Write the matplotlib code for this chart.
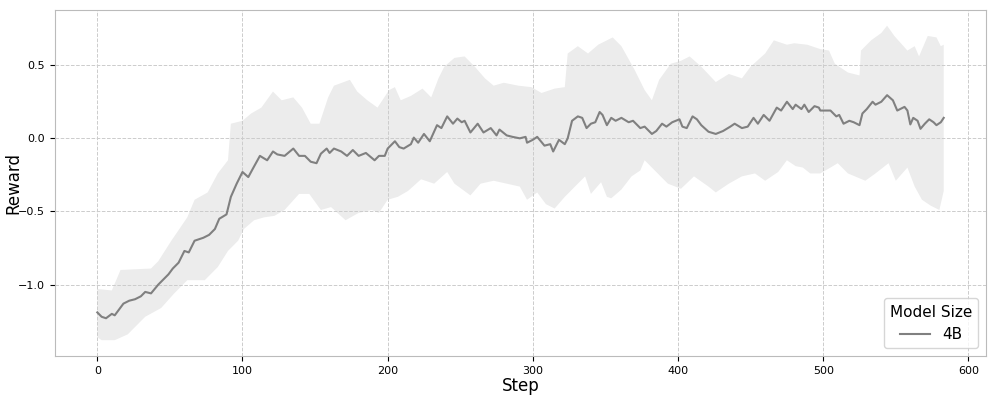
"""Reward curve for the 4B model: mean line with a shaded spread band."""

import numpy as np
import matplotlib
matplotlib.use('Agg')
import matplotlib.pyplot as plt

# mean reward (step, value)
MEAN_STEPS = [
    0, 3, 6, 10, 12, 15, 18, 22, 26, 30, 33, 37, 42, 45, 49, 52, 56, 60, 63, 67,
    70, 73, 77, 81, 84, 89, 92, 96, 100, 104, 107, 112, 117, 121, 124, 129, 135,
    139, 143, 147, 151, 154, 158, 160, 163, 168, 172, 176, 180, 185, 191, 194,
    198, 200, 205, 208, 211, 216, 218, 221, 225, 229, 234, 237, 241, 245, 248,
    251, 253, 257, 262, 266, 271, 275, 277, 282, 286, 291, 295, 296, 300, 303,
    308, 312, 314, 318, 322, 324, 327, 331, 334, 337, 340, 343, 346, 348, 351,
    354, 357, 361, 366, 369, 374, 377, 382, 385, 389, 392, 396, 401, 403, 406,
    410, 413, 416, 421, 426, 431, 436, 439, 444, 448, 452, 455, 459, 463, 468,
    471, 475, 479, 481, 485, 487, 490, 494, 497, 498, 505, 509, 511, 514, 518,
    521, 525, 527, 530, 534, 536, 540, 544, 548, 551, 556, 558, 560, 562, 565,
    567, 570, 573, 576, 578, 581, 583,
]
MEAN_VALUES = [
    -1.19, -1.22, -1.23, -1.20, -1.21, -1.17, -1.13, -1.11, -1.10, -1.08, -1.05,
    -1.06, -1.00, -0.97, -0.93, -0.89, -0.85, -0.77, -0.78, -0.70, -0.69, -0.68,
    -0.66, -0.62, -0.55, -0.52, -0.40, -0.31, -0.23, -0.265, -0.21, -0.12, -0.15,
    -0.09, -0.11, -0.12, -0.07, -0.12, -0.12, -0.16, -0.17, -0.105, -0.07, -0.10,
    -0.07, -0.09, -0.12, -0.08, -0.12, -0.10, -0.15, -0.12, -0.12, -0.07, -0.02,
    -0.06, -0.07, -0.04, 0.005, -0.03, 0.03, -0.02, 0.09, 0.07, 0.15, 0.10, 0.135,
    0.11, 0.12, 0.04, 0.10, 0.04, 0.07, 0.02, 0.06, 0.02, 0.01, 0.0, 0.01, -0.03,
    -0.01, 0.01, -0.05, -0.04, -0.09, -0.01, -0.04, 0.0, 0.12, 0.15, 0.14, 0.07,
    0.10, 0.11, 0.18, 0.16, 0.09, 0.14, 0.12, 0.14, 0.11, 0.12, 0.07, 0.08, 0.03,
    0.05, 0.10, 0.08, 0.11, 0.13, 0.08, 0.07, 0.15, 0.13, 0.09, 0.045, 0.03, 0.05,
    0.08, 0.10, 0.07, 0.08, 0.14, 0.10, 0.16, 0.12, 0.21, 0.19, 0.25, 0.20, 0.23,
    0.20, 0.23, 0.18, 0.22, 0.21, 0.19, 0.19, 0.15, 0.16, 0.10, 0.12, 0.11, 0.09,
    0.17, 0.20, 0.25, 0.23, 0.25, 0.295, 0.26, 0.19, 0.215, 0.19, 0.095, 0.14,
    0.12, 0.065, 0.10, 0.13, 0.11, 0.09, 0.11, 0.14,
]

# upper edge of the band
UPPER_STEPS = [
    0, 10, 16, 37, 42, 51, 62, 67, 76, 83, 90, 92, 100, 106, 113, 121, 127, 135,
    141, 147, 153, 159, 163, 174, 179, 186, 193, 201, 205, 209, 216, 224, 230,
    235, 239, 246, 253, 260, 267, 273, 280, 290, 299, 306, 315, 322, 324, 331,
    338, 345, 355, 361, 370, 377, 382, 387, 395, 402, 408, 416, 426, 435, 444,
    450, 460, 466, 475, 480, 489, 498, 504, 508, 517, 525, 526, 533, 540, 544,
    549, 558, 563, 566, 572, 578, 581, 583,
]
UPPER_VALUES = [
    -1.03, -1.04, -0.90, -0.89, -0.84, -0.70, -0.54, -0.42, -0.37, -0.24, -0.15,
    0.10, 0.12, 0.17, 0.21, 0.32, 0.26, 0.28, 0.21, 0.10, 0.10, 0.28, 0.36, 0.40,
    0.32, 0.26, 0.21, 0.33, 0.35, 0.26, 0.29, 0.34, 0.28, 0.41, 0.49, 0.55, 0.56,
    0.49, 0.41, 0.36, 0.38, 0.36, 0.35, 0.31, 0.34, 0.35, 0.58, 0.63, 0.58, 0.64,
    0.69, 0.63, 0.47, 0.33, 0.26, 0.40, 0.51, 0.53, 0.56, 0.49, 0.385, 0.44,
    0.41, 0.49, 0.58, 0.67, 0.64, 0.65, 0.64, 0.61, 0.60, 0.51, 0.45, 0.43, 0.60,
    0.67, 0.72, 0.77, 0.70, 0.60, 0.63, 0.56, 0.70, 0.69, 0.63, 0.64,
]

# lower edge of the band
LOWER_STEPS = [
    0, 3, 12, 21, 33, 44, 53, 62, 74, 83, 90, 97, 101, 108, 115, 122, 129, 139,
    146, 154, 161, 171, 180, 189, 194, 200, 207, 214, 223, 232, 241, 246, 257,
    264, 273, 282, 291, 296, 303, 309, 315, 322, 331, 336, 340, 347, 351, 354,
    361, 368, 374, 377, 384, 393, 402, 411, 421, 426, 435, 444, 453, 460, 469,
    475, 481, 486, 491, 498, 505, 510, 517, 529, 536, 545, 550, 558, 563, 568,
    574, 580, 583,
]
LOWER_VALUES = [
    -1.36, -1.38, -1.38, -1.34, -1.22, -1.16, -1.06, -0.97, -0.97, -0.88, -0.77,
    -0.70, -0.62, -0.56, -0.54, -0.53, -0.49, -0.38, -0.38, -0.49, -0.47, -0.56,
    -0.51, -0.49, -0.51, -0.42, -0.40, -0.36, -0.28, -0.31, -0.23, -0.31, -0.39,
    -0.31, -0.29, -0.31, -0.33, -0.42, -0.37, -0.45, -0.48, -0.40, -0.31, -0.26,
    -0.38, -0.30, -0.40, -0.41, -0.35, -0.26, -0.22, -0.15, -0.22, -0.31, -0.345,
    -0.26, -0.33, -0.37, -0.31, -0.26, -0.24, -0.29, -0.23, -0.15, -0.19, -0.20,
    -0.24, -0.24, -0.20, -0.17, -0.24, -0.29, -0.24, -0.17, -0.29, -0.20, -0.33,
    -0.42, -0.46, -0.49, -0.36,
]

LABEL = '4B'
COLOR = 'gray'


def main():
    fig, ax = plt.subplots(figsize=(9.96, 3.99), dpi=100)
    fig.subplots_adjust(left=0.0552, right=0.990, top=0.975, bottom=0.108)

    band_x = np.concatenate([UPPER_STEPS, LOWER_STEPS[::-1]])
    band_y = np.concatenate([UPPER_VALUES, LOWER_VALUES[::-1]])
    ax.fill(band_x, band_y, color=COLOR, alpha=0.15, linewidth=0)
    ax.plot(MEAN_STEPS, MEAN_VALUES, color=COLOR, linewidth=1.5, label=LABEL)

    ax.set_xlabel('Step', fontsize=12, labelpad=1)
    ax.set_ylabel('Reward', fontsize=12, labelpad=-3)
    ax.tick_params(labelsize=8)
    ax.grid(True, linestyle='--', color='#cccccc', linewidth=0.7)
    for spine in ax.spines.values():
        spine.set_edgecolor('#bbbbbb')

    ax.legend(title='Model Size', loc='lower right', fontsize=11,
              title_fontsize=11)

    fig.savefig('out.png', dpi=100)


if __name__ == '__main__':
    main()
